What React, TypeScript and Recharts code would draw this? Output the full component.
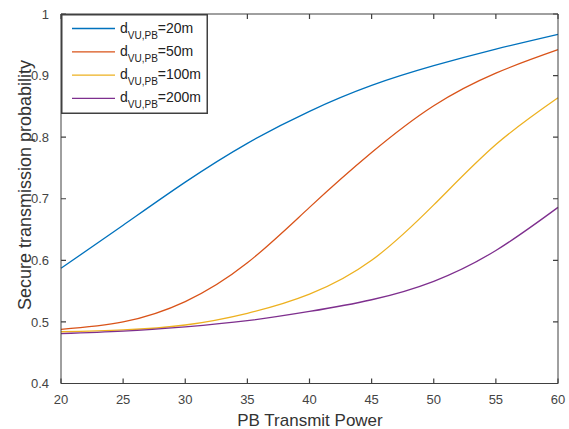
import React from 'react';
import { LineChart, Line, XAxis, YAxis, ReferenceLine } from 'recharts';

const power = [20, 25, 30, 35, 40, 45, 50, 55, 60];
const d20 = [0.587, 0.657, 0.727, 0.79, 0.842, 0.884, 0.916, 0.943, 0.967];
const d50 = [0.488, 0.5, 0.533, 0.596, 0.686, 0.775, 0.851, 0.904, 0.942];
const d100 = [0.484, 0.487, 0.495, 0.514, 0.545, 0.6, 0.69, 0.788, 0.864];
const d200 = [0.481, 0.485, 0.492, 0.502, 0.517, 0.536, 0.566, 0.616, 0.686];

const xTicks = [20, 25, 30, 35, 40, 45, 50, 55, 60];
const yTicks = [0.4, 0.5, 0.6, 0.7, 0.8, 0.9, 1];

const seriesNames = ['20m', '50m', '100m', '200m'];
const seriesKeys = ['d20', 'd50', 'd100', 'd200'];
const seriesColors = ['#0072BD', '#D95319', '#EDB120', '#7E2F8E'];

const data = power.map((p, i) => ({ x: p, d20: d20[i], d50: d50[i], d100: d100[i], d200: d200[i] }));

const AXIS = '#404040';
const FONT = '"Liberation Sans", Arial, Helvetica, sans-serif';
const TICK_LEN = 5;

const XTickMark = (p: any) => {
  const top = Math.min(p.y1, p.y2);
  const bot = Math.max(p.y1, p.y2);
  return (
    <path d={`M${p.x1},${bot}V${bot - TICK_LEN}M${p.x1},${top}V${top + TICK_LEN}`} fill="none" stroke={AXIS} strokeWidth={1.2} />
  );
};

const YTickMark = (p: any) => {
  const l = Math.min(p.x1, p.x2);
  const r = Math.max(p.x1, p.x2);
  return (
    <path d={`M${l},${p.y1}H${l + TICK_LEN}M${r},${p.y1}H${r - TICK_LEN}`} fill="none" stroke={AXIS} strokeWidth={1.2} />
  );
};

export default function App() {
  return (
    <div style={{ position: 'absolute', left: 0, top: 0, width: 569, height: 429, background: '#fff', fontFamily: FONT }}>
      <LineChart width={569} height={429} data={data} margin={{ top: 14, right: 11, bottom: 15.5, left: 0 }}>
        <XAxis
          xAxisId="bottom"
          dataKey="x"
          type="number"
          domain={[20, 60]}
          ticks={xTicks}
          height={30}
          tickSize={0}
          tickMargin={11.5}
          stroke={AXIS}
          tickLine={false}
          tick={{ fill: '#444', fontSize: 13, fontFamily: FONT }}
          interval={0}
        />
        <XAxis
          xAxisId="top"
          dataKey="x"
          type="number"
          domain={[20, 60]}
          ticks={xTicks}
          orientation="top"
          mirror
          height={1}
          tick={false}
          tickLine={false}
          stroke={AXIS}
          interval={0}
        />
        <YAxis
          yAxisId="left"
          type="number"
          domain={[0.4, 1]}
          ticks={yTicks}
          width={61}
          tickSize={0}
          tickMargin={12}
          stroke={AXIS}
          tickLine={false}
          tick={{ fill: '#444', fontSize: 13, fontFamily: FONT }}
          interval={0}
        />
        <YAxis
          yAxisId="right"
          type="number"
          domain={[0.4, 1]}
          ticks={yTicks}
          orientation="right"
          mirror
          width={1}
          tick={false}
          tickLine={false}
          stroke={AXIS}
          interval={0}
        />
        {xTicks.map((t) => (
          <ReferenceLine key={'xt' + t} xAxisId="bottom" yAxisId="left" x={t} shape={<XTickMark />} ifOverflow="visible" />
        ))}
        {yTicks.map((t) => (
          <ReferenceLine key={'yt' + t} xAxisId="bottom" yAxisId="left" y={t} shape={<YTickMark />} ifOverflow="visible" />
        ))}
        {seriesKeys.map((k, i) => (
          <Line
            key={k}
            xAxisId="bottom"
            yAxisId="left"
            type="natural"
            dataKey={k}
            name={seriesNames[i]}
            stroke={seriesColors[i]}
            strokeWidth={1.3}
            dot={false}
            activeDot={false}
            isAnimationActive={false}
          />
        ))}
      </LineChart>
      <svg width={569} height={429} style={{ position: 'absolute', left: 0, top: 0, pointerEvents: 'none' }}>
        <text x={310} y={426} textAnchor="middle" fontSize={17} fill="#333" fontFamily={FONT}>
          PB Transmit Power
        </text>
        <text x={31} y={185} transform="rotate(-90 31 185)" textAnchor="middle" fontSize={18} fill="#333" fontFamily={FONT}>
          Secure transmission probability
        </text>
      </svg>
      <div style={{ position: 'absolute', left: 61, top: 14, width: 148, height: 100 }}>
        <svg width={148} height={100} style={{ display: 'block' }}>
          <rect x={0.75} y={0.75} width={145.5} height={98.5} fill="#fff" stroke={AXIS} strokeWidth={1.5} />
          {seriesNames.map((n, i) => {
            const cy = 14.5 + i * 23.3;
            return (
              <g key={n}>
                <line x1={11} x2={54} y1={cy} y2={cy} stroke={seriesColors[i]} strokeWidth={1.3} />
                <text x={59} y={cy + 4} fontSize={14} fill="#222" fontFamily={FONT}>
                  d
                  <tspan dy={6} fontSize={10}>VU,PB</tspan>
                  <tspan dy={-6}>={n}</tspan>
                </text>
              </g>
            );
          })}
        </svg>
      </div>
    </div>
  );
}
